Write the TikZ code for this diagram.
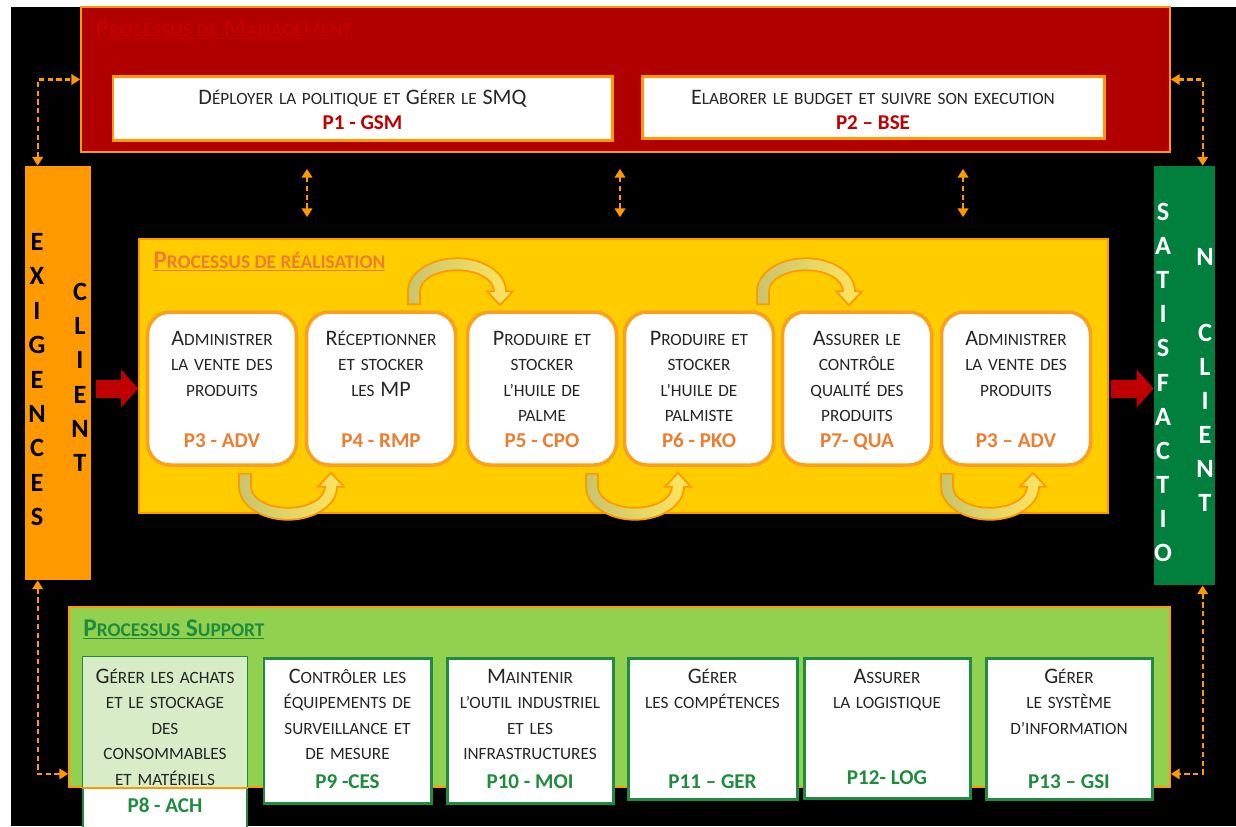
\documentclass[tikz,border=0pt]{standalone}
\usepackage{fontspec}
\setmainfont{Carlito}
\usetikzlibrary{arrows.meta,calc}

\definecolor{mgred}{RGB}{176,0,0}
\definecolor{mgtitle}{RGB}{196,0,0}
\definecolor{codered}{RGB}{192,0,0}
\definecolor{arrowred}{RGB}{192,0,0}
\definecolor{lineorange}{RGB}{255,153,0}
\definecolor{boxorange}{RGB}{250,160,30}
\definecolor{exorange}{RGB}{255,153,0}
\definecolor{realyellow}{RGB}{255,204,0}
\definecolor{realcode}{RGB}{237,125,49}
\definecolor{satgreen}{RGB}{0,128,60}
\definecolor{supgreen}{RGB}{146,208,80}
\definecolor{supline}{RGB}{30,140,65}
\definecolor{supcode}{RGB}{30,140,60}
\definecolor{p8tint}{RGB}{216,236,200}
\definecolor{txtdark}{RGB}{38,38,38}
\definecolor{turnleft}{RGB}{200,196,110}
\definecolor{turnright}{RGB}{255,230,95}

% big letters inside the small-caps text
\newcommand\B[1]{{\fontsize{12.6}{14.6}\selectfont #1}}
\newcommand\sm[1]{{\fontsize{11}{14}\selectfont #1}}

% u-turn arrow between two process boxes
\newcommand\uturn[2]{%
  \begin{scope}[shift={#1}, yscale=#2]
    \shadedraw[turnarrow] (-49,-13) -- (-49,0)
      arc[start angle=180, end angle=0, x radius=49, y radius=33]
      -- (56,0) -- (43,-14) -- (30,0) -- (37,0)
      arc[start angle=0, end angle=180, x radius=37, y radius=21]
      -- (-37,-13) -- cycle;
  \end{scope}}

\begin{document}
\begin{tikzpicture}[x=0.02cm, y=-0.02cm,
    every node/.style={inner sep=0pt},
    mgbox/.style={draw=lineorange, line width=1pt, fill=mgred},
    mgsub/.style={draw=lineorange, line width=1.7pt, fill=white},
    realbox/.style={draw=lineorange, line width=1pt, fill=realyellow},
    procbox/.style={draw=boxorange, line width=2pt, fill=white, rounded corners=0.45cm,
      minimum width=149*\pxu, minimum height=153*\pxu},
    supbox/.style={draw=supline, line width=1.7pt, fill=white},
    ptext/.style={anchor=base, text width=3.2cm, align=center,
      font=\fontsize{9.8}{14.6}\selectfont, text=txtdark},
    pcode/.style={anchor=base, font=\fontsize{12}{14}\selectfont\bfseries},
    vlet/.style={font=\fontsize{15}{15}\selectfont\bfseries},
    ptitle/.style={anchor=base west, font=\fontsize{14.5}{16}\selectfont\bfseries},
    bigarrow/.style={draw=arrowred, line width=0.36cm, -{Triangle[length=0.34cm,width=0.74cm]}},
    dasharr/.style={draw=lineorange, line width=1.2pt, dash pattern=on 3pt off 2pt,
      {Triangle[length=5pt,width=6pt]}-{Triangle[length=5pt,width=6pt]}},
    turnarrow/.style={draw=lineorange, line width=1pt, left color=turnleft, right color=turnright}]
    \def\pxu{0.02cm}

    % page and black background
    \useasboundingbox (0,0) rectangle (1236,826);
    \fill[white] (0,0) rectangle (1236,826);
    \fill[black] (11,7) rectangle (1236,826);

    % Processus de management
    \node[mgbox, minimum width=1089*\pxu, minimum height=145*\pxu] (mgmt) at (625.5,79.5) {};
    \node[ptitle, text=mgtitle] (mgt) at (95,36) {\underline{P\sm{ROCESSUS DE} M\sm{ANAGEMENT}}};
    \node[mgsub, minimum width=499*\pxu, minimum height=64*\pxu] (p1) at (362.5,108) {};
    \node[ptext, text width=9cm] (p1t) at (p1 |- 0,104) {\B{D}ÉPLOYER LA POLITIQUE ET \B{G}ÉRER LE \B{SMQ}};
    \node[pcode, text=codered] (p1c) at (p1 |- 0,129) {P1 - GSM};
    \node[mgsub, minimum width=462*\pxu, minimum height=62*\pxu] (p2) at (873,107) {};
    \node[ptext, text width=9cm] (p2t) at (p2 |- 0,104) {\B{E}LABORER LE BUDGET ET SUIVRE SON EXECUTION};
    \node[pcode, text=codered] (p2c) at (p2 |- 0,129) {P2 – BSE};

    % Exigences client (left)
    \node[fill=exorange, minimum width=66*\pxu, minimum height=414*\pxu] (exig) at (58,373) {};
    \foreach \l [count=\i] in {E,X,I,G,E,N,C,E,S}
        \node[vlet] (ex\i) at (37,{242+34.4*(\i-1)}) {\l};
    \foreach \l [count=\i] in {C,L,I,E,N,T}
        \node[vlet] (ec\i) at (80,{292+34.2*(\i-1)}) {\l};

    % Satisfaction client (right)
    \node[fill=satgreen, minimum width=61*\pxu, minimum height=419*\pxu] (sat) at (1184.5,375.5) {};
    \foreach \l [count=\i] in {S,A,T,I,S,F,A,C,T,I,O}
        \node[vlet, text=white] (sa\i) at (1163,{212+34.1*(\i-1)}) {\l};
    \node[vlet, text=white] (sn) at (1205,257) {N};
    \foreach \l [count=\i] in {C,L,I,E,N,T}
        \node[vlet, text=white] (sc\i) at (1205,{333+34*(\i-1)}) {\l};

    % Processus de realisation
    \node[realbox, minimum width=969*\pxu, minimum height=274*\pxu] (real) at (623.5,376) {};
    \node[ptitle, text=realcode] (realt) at (153,268) {\underline{P\sm{ROCESSUS DE RÉALISATION}}};

    \node[procbox] (r1) at (222,388.5) {};
    \node[procbox] (r2) at (381,388.5) {};
    \node[procbox] (r3) at (542,388.5) {};
    \node[procbox] (r4) at (699,388.5) {};
    \node[procbox] (r5) at (857,388.5) {};
    \node[procbox] (r6) at (1016,388.5) {};

    \node[ptext] (r1t) at (r1 |- 0,345) {\B{A}DMINISTRER\\LA VENTE DES\\PRODUITS};
    \node[ptext] (r2t) at (r2 |- 0,345) {\B{R}ÉCEPTIONNER\\ET STOCKER\\LES \B{MP}};
    \node[ptext] (r3t) at (r3 |- 0,345) {\B{P}RODUIRE ET\\STOCKER\\L’HUILE DE\\PALME};
    \node[ptext] (r4t) at (r4 |- 0,345) {\B{P}RODUIRE ET\\STOCKER\\L’HUILE DE\\PALMISTE};
    \node[ptext] (r5t) at (r5 |- 0,345) {\B{A}SSURER LE\\CONTRÔLE\\QUALITÉ DES\\PRODUITS};
    \node[ptext] (r6t) at (r6 |- 0,345) {\B{A}DMINISTRER\\LA VENTE DES\\PRODUITS};

    \node[pcode, text=realcode] (r1c) at (r1 |- 0,447) {P3 - ADV};
    \node[pcode, text=realcode] (r2c) at (r2 |- 0,447) {P4 - RMP};
    \node[pcode, text=realcode] (r3c) at (r3 |- 0,447) {P5 - CPO};
    \node[pcode, text=realcode] (r4c) at (r4 |- 0,447) {P6 - PKO};
    \node[pcode, text=realcode] (r5c) at (r5 |- 0,447) {P7- QUA};
    \node[pcode, text=realcode] (r6c) at (r6 |- 0,447) {P3 – ADV};

    % u-turn arrows
    \uturn{($(r1.south)+(66,20)$)}{1}
    \uturn{($(r3.south)+(93,20)$)}{1}
    \uturn{($(r6.south)+(-26,20)$)}{1}
    \uturn{($(r2.north)+(76,-19)$)}{-1}
    \uturn{($(r4.north)+(107,-19)$)}{-1}

    % red arrows in and out
    \draw[bigarrow, shorten <=0.1cm] (exig.east |- r1.west) -- (real.west |- r1.west);
    \draw[bigarrow, shorten <=0.04cm] (real.east |- r6.east) -- (sat.west |- r6.east);

    % Processus support
    \node[fill=supgreen, draw=lineorange, line width=1pt,
          minimum width=1101*\pxu, minimum height=180*\pxu] (sup) at (619.5,697) {};
    \node[ptitle, text=supcode] (supt) at (83,636) {\underline{P\sm{ROCESSUS} S\sm{UPPORT}}};

    \node[supbox, minimum width=164*\pxu, minimum height=172*\pxu] (s8) at (165,743) {};
    \fill[p8tint] ($(s8.north west)+(1.5,1.5)$) rectangle ($(s8.east |- sup.south)+(-1.5,0)$);
    \draw[lineorange, line width=1pt] (s8.west |- sup.south) -- (s8.east |- sup.south);
    \node[supbox, minimum width=167*\pxu, minimum height=145*\pxu] (s9) at (347.5,730.5) {};
    \node[supbox, minimum width=166*\pxu, minimum height=145*\pxu] (s10) at (530,730.5) {};
    \node[supbox, minimum width=169*\pxu, minimum height=141*\pxu] (s11) at (712.5,728.5) {};
    \node[supbox, minimum width=166*\pxu, minimum height=140*\pxu] (s12) at (887,728) {};
    \node[supbox, minimum width=166*\pxu, minimum height=141*\pxu] (s13) at (1069,728.5) {};

    \node[ptext] (s8t) at (s8 |- 0,683) {\B{G}ÉRER LES ACHATS\\ET LE STOCKAGE\\DES\\CONSOMMABLES\\ET MATÉRIELS};
    \node[ptext] (s9t) at (s9 |- 0,683) {\B{C}ONTRÔLER LES\\ÉQUIPEMENTS DE\\SURVEILLANCE ET\\DE MESURE};
    \node[ptext] (s10t) at (s10 |- 0,683) {\B{M}AINTENIR\\L’OUTIL INDUSTRIEL\\ET LES\\INFRASTRUCTURES};
    \node[ptext] (s11t) at (s11 |- 0,683) {\B{G}ÉRER\\LES COMPÉTENCES};
    \node[ptext] (s12t) at (s12 |- 0,683) {\B{A}SSURER\\LA LOGISTIQUE};
    \node[ptext] (s13t) at (s13 |- 0,683) {\B{G}ÉRER\\LE SYSTÈME\\D’INFORMATION};

    \node[pcode, text=supcode] (s8c) at (s8 |- 0,812) {P8 - ACH};
    \node[pcode, text=supcode] (s9c) at (s9 |- 0,788) {P9 -CES};
    \node[pcode, text=supcode] (s10c) at (s10 |- 0,788) {P10 - MOI};
    \node[pcode, text=supcode] (s11c) at (s11 |- 0,788) {P11 – GER};
    \node[pcode, text=supcode] (s12c) at (s12 |- 0,784) {P12- LOG};
    \node[pcode, text=supcode] (s13c) at (s13 |- 0,788) {P13 – GSI};

    % dashed links
    \draw[dasharr] ($(exig.north west)+(13,0)$) |- (mgmt.west);
    \draw[dasharr] ($(sat.north west)+(49,0)$) |- (mgmt.east);
    \draw[dasharr] ($(exig.south west)+(13,0)$) |- ($(sup.south west)+(0,-14)$);
    \draw[dasharr] ($(sat.south west)+(49,0)$) |- ($(sup.south east)+(0,-14)$);
    \foreach \x in {307,620,963}
        \draw[dasharr, shorten <=0.32cm, shorten >=0.42cm] (mgmt.south -| \x,0) -- (real.north -| \x,0);
\end{tikzpicture}
\end{document}
